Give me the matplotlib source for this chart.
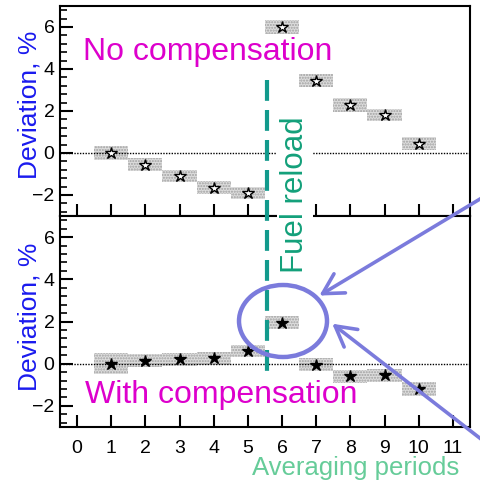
import matplotlib
matplotlib.use("Agg")
import matplotlib.pyplot as plt
import numpy as np
from matplotlib.patches import Rectangle, Ellipse, FancyArrowPatch
from matplotlib.lines import Line2D
from matplotlib.ticker import MultipleLocator
import matplotlib.transforms as mtransforms

plt.rcParams['font.family'] = ['Liberation Sans', 'DejaVu Sans']

periods = [1, 2, 3, 4, 5, 6, 7, 8, 9, 10]
dev_nocomp = [0.0, -0.55, -1.1, -1.65, -1.9, 6.0, 3.45, 2.3, 1.8, 0.45]
err_nocomp = [0.33, 0.3, 0.3, 0.3, 0.3, 0.33, 0.33, 0.33, 0.3, 0.3]
dev_comp = [0.0, 0.15, 0.2, 0.25, 0.6, 1.95, -0.05, -0.6, -0.55, -1.2]
err_comp = [0.5, 0.3, 0.3, 0.3, 0.3, 0.3, 0.3, 0.3, 0.3, 0.35]
xticks = list(range(0, 12))

W, H = 481, 490
fig = plt.figure(figsize=(W / 100, H / 100), dpi=100)

left, right = 60 / W, 470 / W
ax_top = fig.add_axes([left, 1 - 216 / H, right - left, 210 / H])
ax_bot = fig.add_axes([left, 1 - 427 / H, right - left, 211 / H])

tick_font = {'family': ['Liberation Sans Narrow', 'Liberation Sans'], 'size': 14}


def draw_panel(ax, vals, errs, filled):
    for x, v, e in zip(periods, vals, errs):
        ax.add_patch(Rectangle((x - 0.5, v - e), 1.0, 2 * e, facecolor='#dddddd',
                               edgecolor='#a0a0a0', hatch='......', lw=0, zorder=2))
    ax.axhline(0, color='black', ls=(0, (1, 1)), lw=1.0, zorder=3)
    ax.plot(periods, vals, ls='none', marker='*', ms=9,
            mfc='black' if filled else 'white', mec='black', mew=1.0, zorder=4)
    ax.set_xlim(-0.5, 11.5)
    ax.set_ylim(-3, 7)
    ax.set_xticks(xticks)
    ax.yaxis.set_major_locator(MultipleLocator(2))
    ax.yaxis.set_minor_locator(MultipleLocator(0.4))
    ax.tick_params(axis='x', direction='in', length=9, width=1.5, top=False)
    ax.tick_params(axis='y', which='major', direction='in', length=9, width=1.5,
                   right=False, pad=4)
    ax.tick_params(axis='y', which='minor', direction='in', length=5, width=1.2,
                   right=False)
    for lab in ax.get_yticklabels():
        lab.set_fontfamily(tick_font['family'])
        lab.set_fontsize(tick_font['size'])
    for s in ax.spines.values():
        s.set_linewidth(1.5)
    ax.set_ylabel('Deviation, %', color='#1a1aee', fontsize=19)


draw_panel(ax_top, dev_nocomp, err_nocomp, False)
draw_panel(ax_bot, dev_comp, err_comp, True)
ax_top.yaxis.set_label_coords(-0.044, 0.53)
ax_bot.yaxis.set_label_coords(-0.044, 0.52)
ax_top.set_xticklabels([])
ax_bot.set_xticklabels([str(t) for t in xticks])
for lab in ax_bot.get_xticklabels():
    lab.set_fontfamily(tick_font['family'])
    lab.set_fontsize(tick_font['size'])
ax_bot.tick_params(axis='x', pad=9)

ax_top.text(0.055, 0.78, 'No compensation', transform=ax_top.transAxes,
            color='#dd00cc', fontsize=23, va='center', ha='left')
ax_bot.text(0.06, 0.15, 'With compensation', transform=ax_bot.transAxes,
            color='#dd00cc', fontsize=23, va='center', ha='left')

# dashed fuel reload line
tr = mtransforms.blended_transform_factory(ax_top.transData, fig.transFigure)
fig.add_artist(Line2D([5.55, 5.55], [1 - 80 / H, 1 - 377 / H], transform=tr,
                      color='#129a8c', lw=3, ls=(0, (5, 2.2)), zorder=5))
fig.text(295 / W, 1 - 195 / H, 'Fuel reload', rotation=90, color='#13a07a',
         fontsize=22.5, ha='center', va='center', zorder=6,
         bbox=dict(facecolor='white', edgecolor='none', pad=2.5))

fig.text(356 / W, 1 - 468 / H, 'Averaging periods', color='#66cc99',
         fontsize=18.5, ha='center', va='center')

# highlight circle and arrows
acol = '#7b7bdc'
fig.add_artist(Ellipse((283 / W, 1 - 321 / H), 88 / W, 72 / H, transform=fig.transFigure,
                       fill=False, edgecolor=acol, lw=3.2, zorder=7))
for (x0, y0), (x1, y1) in [((490, 193), (317, 297)), ((490, 446), (330, 322))]:
    fig.add_artist(FancyArrowPatch((x0 / W, 1 - y0 / H), (x1 / W, 1 - y1 / H),
                                   transform=fig.transFigure, color=acol, lw=2.6,
                                   arrowstyle='->,head_length=9,head_width=5',
                                   mutation_scale=1.6, zorder=7, clip_on=False))

fig.savefig('out.png', dpi=100)
